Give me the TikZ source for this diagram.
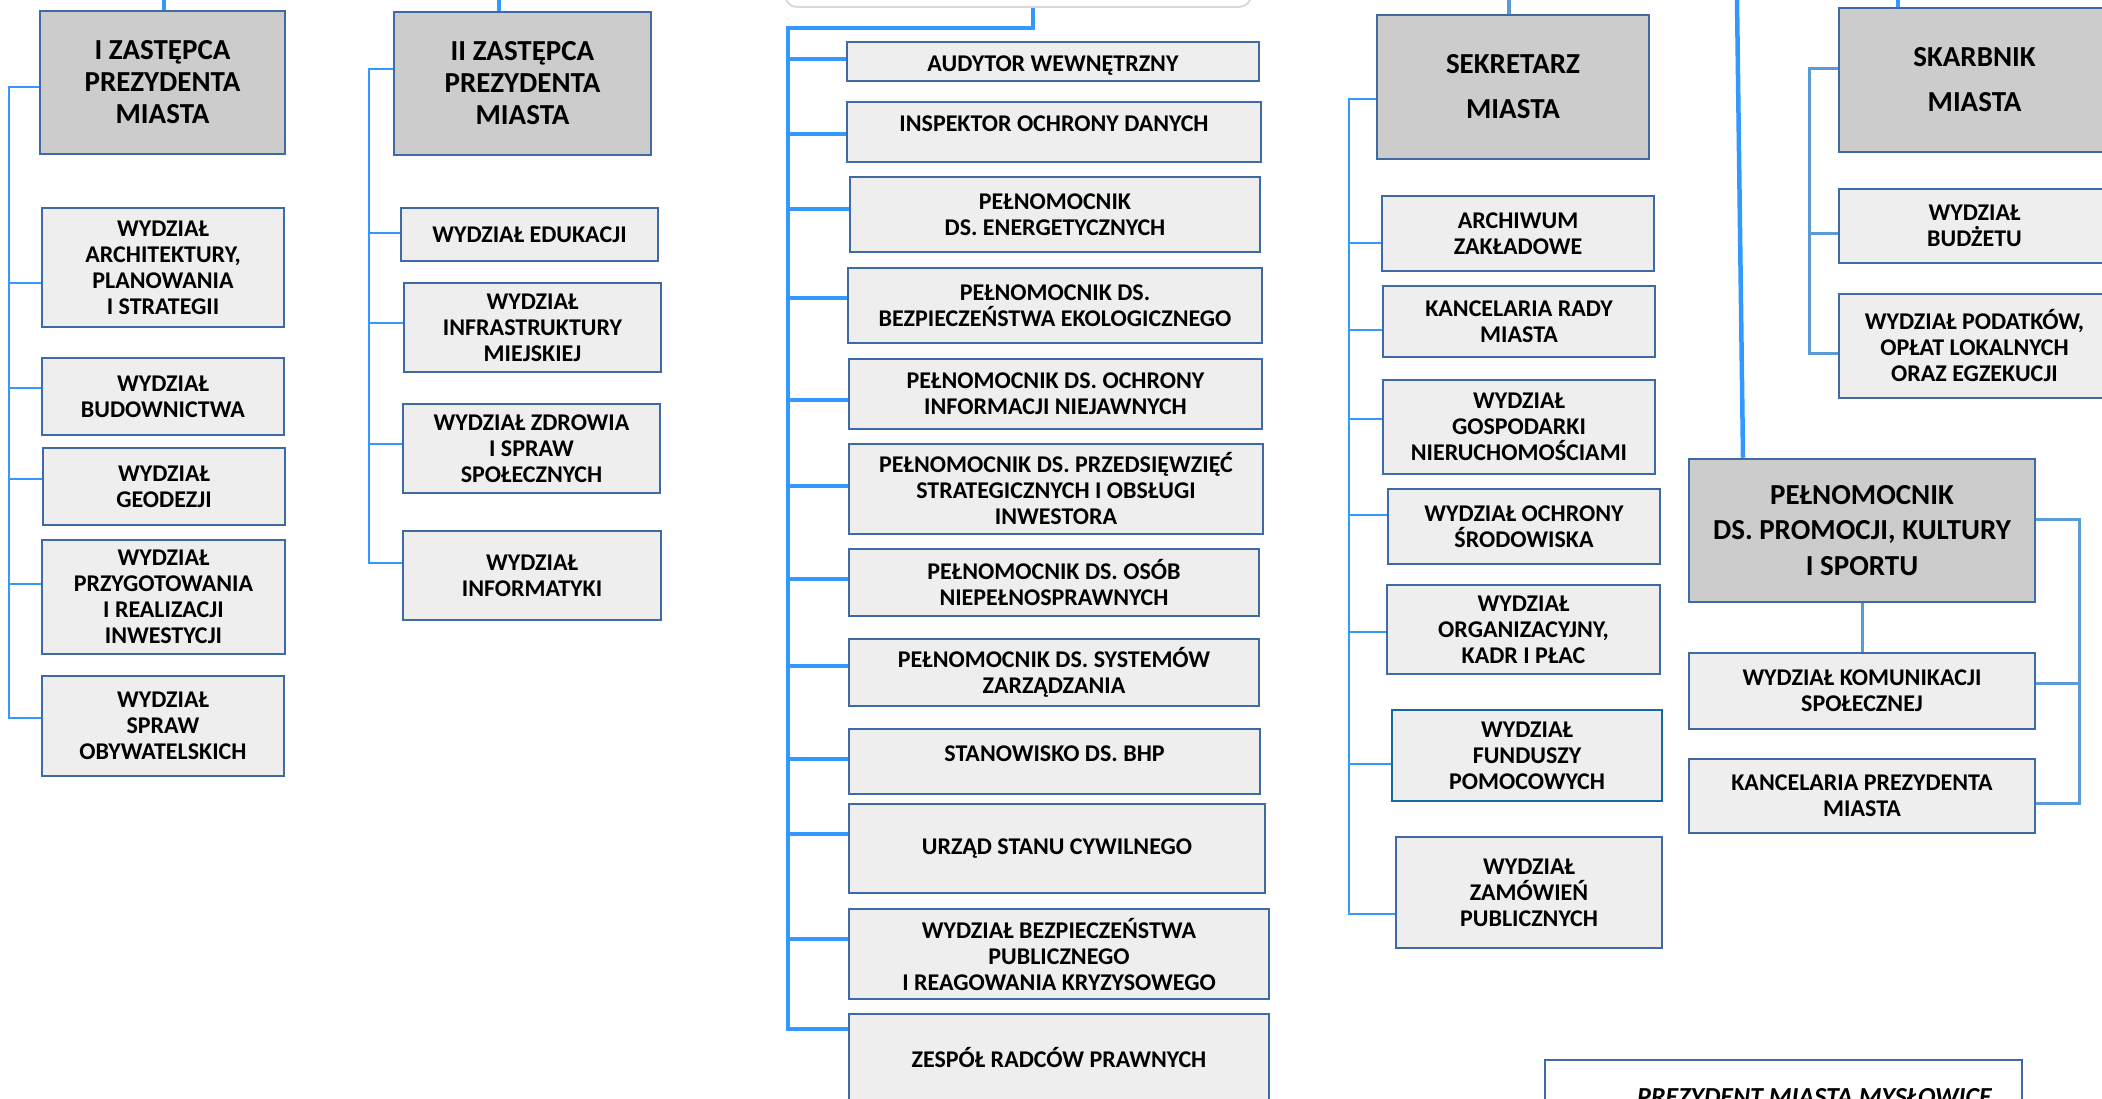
\documentclass[tikz,border=0pt]{standalone}
\usepackage{fontspec}
\setmainfont{Carlito}
\usepackage{tikz}
\definecolor{boxblue}{RGB}{62,106,165}
\definecolor{tealblue}{RGB}{22,104,158}
\definecolor{headgray}{RGB}{204,204,204}
\definecolor{unitgray}{RGB}{238,238,238}
\definecolor{linkblue}{RGB}{51,153,255}
\definecolor{softblue}{RGB}{91,155,213}
\tikzstyle{head} = [rectangle, draw=boxblue, fill=headgray, line width=2.5pt,
                    align=center, inner sep=2pt,
                    font=\fontsize{29}{32}\selectfont\bfseries]
\tikzstyle{unit} = [rectangle, draw=boxblue, fill=unitgray, line width=2.5pt,
                    align=center, inner sep=2pt,
                    font=\fontsize{24}{26}\selectfont\bfseries]
\tikzstyle{topbox} = [rectangle, rounded corners=12pt, draw=black!15,
                      fill=white, line width=2pt]
\tikzstyle{title} = [rectangle, draw=boxblue, fill=white, line width=2.5pt,
                     inner sep=2pt, font=\fontsize{26}{30}\selectfont\bfseries\itshape]
\tikzstyle{mainline} = [linkblue, line width=4.5pt]
\tikzstyle{link} = [linkblue, line width=2.5pt]
\tikzstyle{softlink} = [softblue, line width=3pt]

\begin{document}
\begin{tikzpicture}[x=1pt, y=-1pt]
        \useasboundingbox (0,0) rectangle (2102,1099);
        \clip (0,0) rectangle (2102,1099);

        %Mayor box (cut off at the top)
        \node at (1018,-30) (prezydent) [topbox, minimum width=466pt, minimum height=74pt] {};

        %I deputy
        \node at (162.5,82.5) (zast1) [head, minimum width=245pt, minimum height=143pt] {I ZASTĘPCA\\PREZYDENTA\\MIASTA};
        \node at (163,267.5) (archi) [unit, minimum width=242pt, minimum height=119pt] {WYDZIAŁ\\ARCHITEKTURY,\\PLANOWANIA\\I STRATEGII};
        \node at (163,396.5) (budow) [unit, minimum width=242pt, minimum height=77pt] {WYDZIAŁ\\BUDOWNICTWA};
        \node at (164,486.5) (geodez) [unit, minimum width=242pt, minimum height=77pt] {WYDZIAŁ\\GEODEZJI};
        \node at (163.5,597) (inwest) [unit, minimum width=243pt, minimum height=114pt] {WYDZIAŁ\\PRZYGOTOWANIA\\I REALIZACJI\\INWESTYCJI};
        \node at (163,726) (obyw) [unit, minimum width=242pt, minimum height=100pt] {WYDZIAŁ\\SPRAW\\OBYWATELSKICH};

        %II deputy
        \node at (522.5,83.5) (zast2) [head, minimum width=257pt, minimum height=143pt] {II ZASTĘPCA\\PREZYDENTA\\MIASTA};
        \node at (529.5,234.5) (eduk) [unit, minimum width=257pt, minimum height=53pt] {WYDZIAŁ EDUKACJI};
        \node at (532.5,327.5) (infra) [unit, minimum width=257pt, minimum height=89pt] {WYDZIAŁ\\INFRASTRUKTURY\\MIEJSKIEJ};
        \node at (531.5,448.5) (zdrow) [unit, minimum width=257pt, minimum height=89pt] {WYDZIAŁ ZDROWIA\\I SPRAW\\SPOŁECZNYCH};
        \node at (532,575.5) (inform) [unit, minimum width=258pt, minimum height=89pt] {WYDZIAŁ\\INFORMATYKI};

        %Units under the mayor
        \node at (1053,61.5) (audytor) [unit, text height=24pt, minimum width=412pt, minimum height=39pt] {AUDYTOR WEWNĘTRZNY};
        \node at (1054,132) (inspektor) [unit, text depth=16pt, minimum width=414pt, minimum height=60pt] {INSPEKTOR OCHRONY DANYCH};
        \node at (1055,214.5) (energ) [unit, minimum width=410pt, minimum height=75pt] {PEŁNOMOCNIK\\DS. ENERGETYCZNYCH};
        \node at (1055,305.5) (ekolog) [unit, minimum width=414pt, minimum height=75pt] {PEŁNOMOCNIK DS.\\BEZPIECZEŃSTWA EKOLOGICZNEGO};
        \node at (1055.5,394) (niejawne) [unit, minimum width=413pt, minimum height=70pt] {PEŁNOMOCNIK DS. OCHRONY\\INFORMACJI NIEJAWNYCH};
        \node at (1056,489) (inwestor) [unit, minimum width=414pt, minimum height=90pt] {PEŁNOMOCNIK DS. PRZEDSIĘWZIĘĆ\\STRATEGICZNYCH I OBSŁUGI\\INWESTORA};
        \node at (1054,582.5) (osoby) [unit, minimum width=410pt, minimum height=67pt] {PEŁNOMOCNIK DS. OSÓB\\NIEPEŁNOSPRAWNYCH};
        \node at (1054,672.5) (systemy) [unit, minimum width=410pt, minimum height=67pt] {PEŁNOMOCNIK DS. SYSTEMÓW\\ZARZĄDZANIA};
        \node at (1054.5,761.5) (bhp) [unit, text depth=16pt, minimum width=411pt, minimum height=65pt] {STANOWISKO DS. BHP};
        \node at (1057,848.5) (usc) [unit, minimum width=416pt, minimum height=89pt] {URZĄD STANU CYWILNEGO};
        \node at (1059,954) (bezp) [unit, minimum width=420pt, minimum height=90pt] {WYDZIAŁ BEZPIECZEŃSTWA\\PUBLICZNEGO\\I REAGOWANIA KRYZYSOWEGO};
        \node at (1059,1057) (radcy) [unit, minimum width=420pt, minimum height=86pt] {ZESPÓŁ RADCÓW PRAWNYCH};

        %Secretary
        \node at (1513,87) (sekr) [head, minimum width=272pt, minimum height=144pt, font=\fontsize{29}{45}\selectfont\bfseries] {SEKRETARZ\\MIASTA};
        \node at (1518,233.5) (archiw) [unit, minimum width=272pt, minimum height=75pt] {ARCHIWUM\\ZAKŁADOWE};
        \node at (1519,321.5) (kancr) [unit, minimum width=272pt, minimum height=71pt] {KANCELARIA RADY\\MIASTA};
        \node at (1519,427) (nieruch) [unit, minimum width=272pt, minimum height=94pt] {WYDZIAŁ\\GOSPODARKI\\NIERUCHOMOŚCIAMI};
        \node at (1524,526.5) (srodow) [unit, minimum width=272pt, minimum height=75pt] {WYDZIAŁ OCHRONY\\ŚRODOWISKA};
        \node at (1523.5,629.5) (kadry) [unit, minimum width=273pt, minimum height=89pt] {WYDZIAŁ\\ORGANIZACYJNY,\\KADR I PŁAC};
        \node at (1527,755.5) (fundusze) [unit, draw=tealblue, minimum width=270pt, minimum height=91pt] {WYDZIAŁ\\FUNDUSZY\\POMOCOWYCH};
        \node at (1529,892.5) (zamow) [unit, minimum width=266pt, minimum height=111pt] {WYDZIAŁ\\ZAMÓWIEŃ\\PUBLICZNYCH};

        %Treasurer
        \node at (1974.5,80) (skarb) [head, minimum width=271pt, minimum height=144pt, font=\fontsize{29}{45}\selectfont\bfseries] {SKARBNIK\\MIASTA};
        \node at (1974.5,226) (budzet) [unit, minimum width=271pt, minimum height=74pt] {WYDZIAŁ\\BUDŻETU};
        \node at (1974.5,346) (podat) [unit, minimum width=271pt, minimum height=104pt] {WYDZIAŁ PODATKÓW,\\OPŁAT LOKALNYCH\\ORAZ EGZEKUCJI};

        %Promotion plenipotentiary
        \node at (1862,530.5) (promo) [head, minimum width=346pt, minimum height=143pt, font=\fontsize{29}{35.5}\selectfont\bfseries] {PEŁNOMOCNIK\\DS. PROMOCJI, KULTURY\\I SPORTU};
        \node at (1862,691) (komun) [unit, minimum width=346pt, minimum height=76pt] {WYDZIAŁ KOMUNIKACJI\\SPOŁECZNEJ};
        \node at (1862,796) (kancp) [unit, minimum width=346pt, minimum height=74pt] {KANCELARIA PREZYDENTA\\MIASTA};

        %Title box
        \node at (1783.5,1097) (tytul) [title, minimum width=477pt, minimum height=74pt] {\hspace*{62pt}PREZYDENT MIASTA MYSŁOWICE};

        %Lines from the top edge
        \coordinate (topA) at (164,0);
        \coordinate (topB) at (499,0);
        \coordinate (topC) at (1509,0);
        \coordinate (topD) at (1737,0);
        \coordinate (topE) at (1898,0);
        \draw [mainline] (topA) -- (zast1.north -| topA);
        \draw [mainline] (topB) -- (zast2.north -| topB);
        \draw [softlink, line width=4pt] (topC) -- (sekr.north -| topC);
        \draw [mainline] (topD) -- ([xshift=-119pt]promo.north);
        \draw [mainline] (topE) -- (skarb.north -| topE);

        %Main bus
        \coordinate (topM) at ([xshift=15pt]prezydent.south);
        \coordinate (busM) at (788,28);
        \draw [mainline] (topM) |- (busM) |- (radcy.west |- 0,1029);
        \foreach \n/\y in {audytor/59, inspektor/134, energ/209, ekolog/298, niejawne/400, inwestor/486,
                           osoby/579, systemy/666, bhp/759, usc/834, bezp/939}
            \draw [mainline] (busM |- 0,\y) -- (\n.west |- 0,\y);

        %Lines to I deputy units
        \coordinate (busA) at (9,718);
        \draw [link] (zast1.west |- 0,87) -| (busA) -- (obyw.west |- 0,718);
        \foreach \n/\y in {archi/283, budow/388, geodez/479, inwest/584}
            \draw [link] (busA |- 0,\y) -- (\n.west |- 0,\y);

        %Lines to II deputy units
        \coordinate (busB) at (369,563);
        \draw [link] (zast2.west |- 0,69) -| (busB) -- (inform.west |- 0,563);
        \foreach \n/\y in {eduk/233, infra/323, zdrow/444}
            \draw [link] (busB |- 0,\y) -- (\n.west |- 0,\y);

        %Lines to secretary units
        \coordinate (busC) at (1349,914);
        \draw [link] (sekr.west |- 0,99) -| (busC) -- (zamow.west |- 0,914);
        \foreach \n/\y in {archiw/243, kancr/330, nieruch/419, srodow/515, kadry/632, fundusze/764}
            \draw [link] (busC |- 0,\y) -- (\n.west |- 0,\y);

        %Lines to treasurer units
        \coordinate (busE) at (1809,353);
        \draw [softlink] (skarb.west |- 0,69) -| (busE) -- (podat.west |- 0,353);
        \draw [softlink] (busE |- 0,234) -- (budzet.west |- 0,234);

        %Lines to promotion units
        \coordinate (busF) at (2079,803);
        \draw [softlink] (promo.south) -- (komun.north);
        \draw [softlink] (promo.east |- 0,519) -| (busF) -- (kancp.east |- 0,803);
        \draw [softlink] (busF |- 0,683) -- (komun.east |- 0,683);

\end{tikzpicture}
\end{document}
